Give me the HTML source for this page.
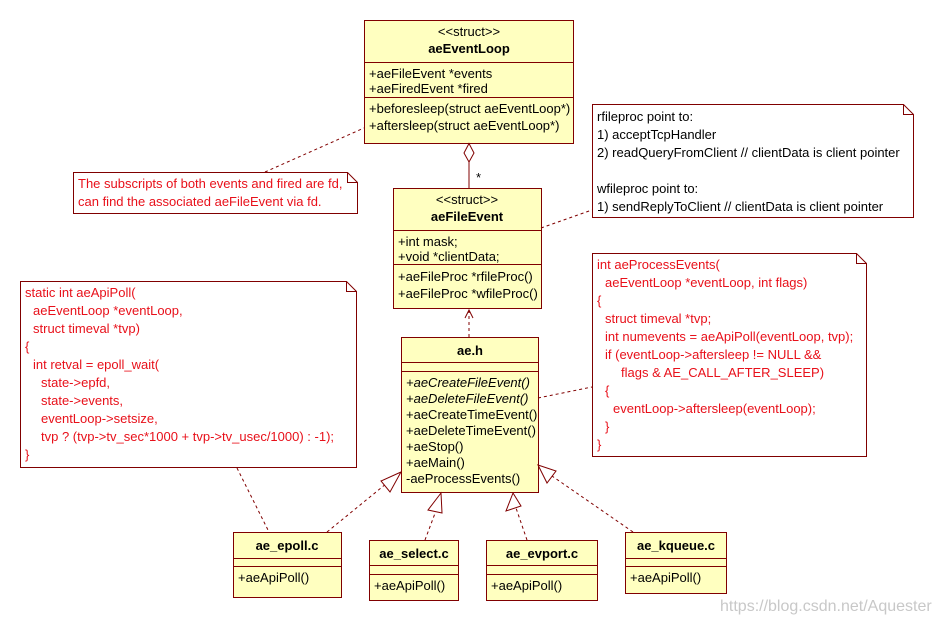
<!DOCTYPE html>
<html><head><meta charset="utf-8"><style>
html,body{margin:0;padding:0;background:#fff;}
svg{display:block;}
text{font-family:"Liberation Sans",sans-serif;font-size:13px;}
.r{fill:#e8101a;}
.k{fill:#000;}
.b{font-weight:bold;}
</style></head><body>
<svg width="934" height="621" viewBox="0 0 934 621" xmlns="http://www.w3.org/2000/svg">
<g fill="#ffffc0" stroke="#800000" stroke-width="1">
<rect x="364.5" y="20.5" width="209" height="123"/>
<line x1="364" y1="62.5" x2="573" y2="62.5"/>
<line x1="364" y1="97.5" x2="573" y2="97.5"/>
<rect x="393.5" y="188.5" width="148" height="120"/>
<line x1="393" y1="230.5" x2="541" y2="230.5"/>
<line x1="393" y1="264.5" x2="541" y2="264.5"/>
<rect x="401.5" y="337.5" width="137" height="155"/>
<line x1="401" y1="362.5" x2="538" y2="362.5"/>
<line x1="401" y1="371.5" x2="538" y2="371.5"/>
<rect x="233.5" y="532.5" width="108" height="65"/>
<line x1="233" y1="558.5" x2="341" y2="558.5"/>
<line x1="233" y1="566.5" x2="341" y2="566.5"/>
<rect x="369.5" y="540.5" width="89" height="60"/>
<line x1="369" y1="565.5" x2="458" y2="565.5"/>
<line x1="369" y1="574.5" x2="458" y2="574.5"/>
<rect x="486.5" y="540.5" width="111" height="60"/>
<line x1="486" y1="565.5" x2="597" y2="565.5"/>
<line x1="486" y1="574.5" x2="597" y2="574.5"/>
<rect x="625.5" y="532.5" width="101" height="61"/>
<line x1="625" y1="558.5" x2="726" y2="558.5"/>
<line x1="625" y1="566.5" x2="726" y2="566.5"/>
</g>
<g fill="#fff" stroke="#800000">
<path d="M73.5 172.5 H347.5 L357.5 182.5 V213.5 H73.5 Z"/><path d="M347.5 172.5 V182.5 H357.5" fill="none"/>
<path d="M592.5 104.5 H903.5 L913.5 114.5 V217.5 H592.5 Z"/><path d="M903.5 104.5 V114.5 H913.5" fill="none"/>
<path d="M592.5 253.5 H856.5 L866.5 263.5 V456.5 H592.5 Z"/><path d="M856.5 253.5 V263.5 H866.5" fill="none"/>
<path d="M20.5 281.5 H346.5 L356.5 291.5 V467.5 H20.5 Z"/><path d="M346.5 281.5 V291.5 H356.5" fill="none"/>
</g>
<g stroke="#800000" fill="none" stroke-dasharray="3,3">
<line x1="265" y1="172" x2="364" y2="128"/>
<line x1="541" y1="228" x2="592" y2="210"/>
<line x1="469" y1="337" x2="469" y2="310"/>
<line x1="538" y1="398" x2="592" y2="387"/>
<line x1="237" y1="468" x2="269" y2="532"/>
<line x1="327" y1="532" x2="392" y2="479"/>
<line x1="425" y1="540" x2="437" y2="508"/>
<line x1="527" y1="540" x2="516" y2="508"/>
<line x1="633" y1="532" x2="552" y2="476"/>
</g>
<g stroke="#800000" fill="none">
<path d="M465 318 L469 310 L473 318"/>
<path d="M469 143.5 L474 153 L469 162 L464 153 Z" fill="#fff"/>
<line x1="469" y1="162" x2="469" y2="188"/>
<path d="M401 472 L381 481 L390 492 Z" fill="#fff"/>
<path d="M441 493 L428 510 L442 513 Z" fill="#fff"/>
<path d="M513 493 L506 511 L521 506 Z" fill="#fff"/>
<path d="M538 465 L547 483 L556 471 Z" fill="#fff"/>
</g>
<text x="476" y="182" class="k">*</text>
<g class="k" text-anchor="middle">
<text x="469" y="36">&lt;&lt;struct&gt;&gt;</text>
<text x="469" y="53" class="b">aeEventLoop</text>
<text x="467" y="204">&lt;&lt;struct&gt;&gt;</text>
<text x="467" y="221" class="b">aeFileEvent</text>
<text x="470" y="355" class="b">ae.h</text>
<text x="287" y="550" class="b">ae_epoll.c</text>
<text x="414" y="558" class="b">ae_select.c</text>
<text x="542" y="558" class="b">ae_evport.c</text>
<text x="676" y="550" class="b">ae_kqueue.c</text>
</g>
<g class="k">
<text x="369" y="78">+aeFileEvent *events</text>
<text x="369" y="93">+aeFiredEvent *fired</text>
<text x="369" y="113">+beforesleep(struct aeEventLoop*)</text>
<text x="369" y="130">+aftersleep(struct aeEventLoop*)</text>
<text x="398" y="246">+int mask;</text>
<text x="398" y="261">+void *clientData;</text>
<text x="398" y="281">+aeFileProc *rfileProc()</text>
<text x="398" y="298">+aeFileProc *wfileProc()</text>
<text x="406" y="387" font-style="italic">+aeCreateFileEvent()</text>
<text x="406" y="403" font-style="italic">+aeDeleteFileEvent()</text>
<text x="406" y="419">+aeCreateTimeEvent()</text>
<text x="406" y="435">+aeDeleteTimeEvent()</text>
<text x="406" y="451">+aeStop()</text>
<text x="406" y="467">+aeMain()</text>
<text x="406" y="483">-aeProcessEvents()</text>
<text x="238" y="582">+aeApiPoll()</text>
<text x="374" y="590">+aeApiPoll()</text>
<text x="491" y="590">+aeApiPoll()</text>
<text x="630" y="582">+aeApiPoll()</text>
<text x="597" y="121">rfileproc point to:</text>
<text x="597" y="139">1) acceptTcpHandler</text>
<text x="597" y="157">2) readQueryFromClient // clientData is client pointer</text>
<text x="597" y="193">wfileproc point to:</text>
<text x="597" y="211">1) sendReplyToClient // clientData is client pointer</text>
</g>
<g class="r">
<text x="78" y="188">The subscripts of both events and fired are fd,</text>
<text x="78" y="206">can find the associated aeFileEvent via fd.</text>
<text x="25" y="297">static int aeApiPoll(</text>
<text x="33" y="315">aeEventLoop *eventLoop,</text>
<text x="33" y="333">struct timeval *tvp)</text>
<text x="25" y="351">{</text>
<text x="33" y="369">int retval = epoll_wait(</text>
<text x="41" y="387">state-&gt;epfd,</text>
<text x="41" y="405">state-&gt;events,</text>
<text x="41" y="423">eventLoop-&gt;setsize,</text>
<text x="41" y="441">tvp ? (tvp-&gt;tv_sec*1000 + tvp-&gt;tv_usec/1000) : -1);</text>
<text x="25" y="459">}</text>
<text x="597" y="269">int aeProcessEvents(</text>
<text x="605" y="287">aeEventLoop *eventLoop, int flags)</text>
<text x="597" y="305">{</text>
<text x="605" y="323">struct timeval *tvp;</text>
<text x="605" y="341">int numevents = aeApiPoll(eventLoop, tvp);</text>
<text x="605" y="359">if (eventLoop-&gt;aftersleep != NULL &amp;&amp;</text>
<text x="621" y="377">flags &amp; AE_CALL_AFTER_SLEEP)</text>
<text x="605" y="395">{</text>
<text x="613" y="413">eventLoop-&gt;aftersleep(eventLoop);</text>
<text x="605" y="431">}</text>
<text x="597" y="449">}</text>
</g>
<text x="720" y="611" fill="#c8c8c8" style="font-size:16px">https://blog.csdn.net/Aquester</text>
</svg>
</body></html>
